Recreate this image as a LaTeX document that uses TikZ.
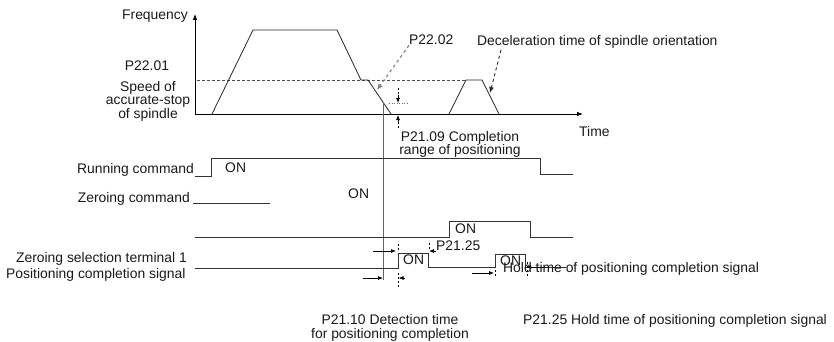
\documentclass[tikz,border=0pt]{standalone}
\usepackage{fontspec}
\setmainfont{Liberation Sans}
\usetikzlibrary{arrows.meta}

\begin{document}
\begin{tikzpicture}[
        x=1pt, y=-1pt,
        lbl/.style={font=\fontsize{13.9}{13.6}\selectfont, text=black!90, inner sep=0pt},
        axis/.style={line width=0.8pt, -{Latex[length=6pt,width=4.5pt]}},
        ramp/.style={line width=0.8pt, black!85},
        sig/.style={line width=0.8pt, black!80},
        level/.style={line width=0.5pt, densely dashed, black!70},
        pointer/.style={dashed, line width=1.1pt, -{Latex[length=6pt,width=5pt]}},
        tickarr/.style={line width=0.7pt, -{Latex[length=5pt,width=4pt]}},
        tick/.style={line width=0.6pt, dash pattern=on 2pt off 2pt}
    ]
        \useasboundingbox (0,0) rectangle (834,342);

        % Axes
        \coordinate (O) at (195,114);
        \coordinate (ftop) at (195,14);
        \coordinate (tend) at (583,114);
        \draw[axis] (O) -- (ftop);
        \draw[axis] (O) -- (tend);
        \node[lbl, anchor=base east] (freq) at (188,20) {Frequency};
        \node[lbl, anchor=base west] (time) at (579,136) {Time};

        % Speed profile
        \draw[level] (197,80) -- (466,80);
        \draw[ramp] (212,114) -- (253,30) -- (337,30) -- (361,80) -- (368,80) -- (391,114);
        \draw[ramp] (449,114) -- (466,80) -- (482,80) -- (499,114);
        \node[lbl, anchor=base] (p2201) at (147,71) {P22.01};
        \node[lbl, align=center, anchor=north] (speed) at (148,81) {Speed of\\accurate-stop\\of spindle};

        % Pointers to the deceleration slopes
        \node[lbl, anchor=base west] (p2202) at (409,45) {P22.02};
        \node[lbl, anchor=base west] (decel) at (477,45.5) {Deceleration time of spindle orientation};
        \coordinate (slopeA) at (377,90);
        \coordinate (decTail) at (501,50);
        \coordinate (slopeB) at (490,93);
        \draw[pointer, black!50] (p2202.south west) -- (slopeA);
        \draw[pointer, black!85, line width=0.9pt] (decTail) -- (slopeB);

        % Completion range
        \draw[tick] (398,88) -- (398,96);
        \draw[tickarr] (398,95) -- (398,103);
        \draw[line width=0.5pt, dotted, black!60] (389,103) -- (407,103);
        \draw[tickarr] (398,123) -- (398,115);
        \draw[tick] (398,122) -- (398,129);
        \node[lbl, align=center, anchor=north] (p2109) at (460,131) {P21.09 Completion\\range of positioning};

        % Moment of entering the range
        \coordinate (inrange) at (383,102);
        \coordinate (inrangeEnd) at (383,280);
        \draw[line width=0.6pt, black!60] (inrange) -- (inrangeEnd);

        % Signals
        \node[lbl, anchor=base east] (runlbl) at (194,173) {Running command};
        \draw[sig] (195,176) -- (211,176) -- (211,158) -- (540,158) -- (540,174) -- (573,174);
        \node[lbl, anchor=base west] (on1) at (225,172) {ON};

        \node[lbl, anchor=base east] (zerolbl) at (190,202) {Zeroing command};
        \draw[sig] (193,203) -- (270,203);
        \node[lbl, anchor=base west] (on2) at (348,198) {ON};

        \draw[sig] (195,237) -- (449,237) -- (449,221) -- (530,221) -- (530,237) -- (573,237);
        \node[lbl, anchor=base west] (on3) at (455,233) {ON};

        \node[lbl, anchor=base east] (zsellbl) at (187,262) {Zeroing selection terminal 1};
        \node[lbl, anchor=base west] (poslbl) at (6,278) {Positioning completion signal};
        \draw[sig] (195,268) -- (398,268) -- (398,253) -- (428,253) -- (428,267) -- (495,267)
            -- (495,254) -- (525,254) -- (525,267) -- (566,267);
        \node[lbl, anchor=base west] (on4) at (403,264.5) {ON};
        \node[lbl, anchor=base west] (on5) at (500,265) {ON};

        % Detection and hold times
        \draw[tickarr] (373,251) -- (396,251);
        \draw[tick] (398,244) -- (398,251);
        \node[lbl, anchor=base west] (p2125) at (436,250) {P21.25};
        \draw[tickarr] (p2125.west |- 0,251) -- (429,251);
        \draw[tick] (429,243) -- (429,250);
        \draw[tickarr] (363,278) -- (inrangeEnd |- 0,278);
        \draw[tickarr] (405,278) -- (398.5,278);
        \draw[tick] (398,273) -- (398,287);
        \draw[tickarr] (472,273) -- (494,273);
        \draw[tick] (495,270) -- (495,278);
        \draw[tickarr] (545,267) -- (526,267);
        \draw[tick] (527,262) -- (527,278);
        \node[lbl, anchor=base west] (hold) at (503,272) {Hold time of positioning completion signal};

        \node[lbl, align=center, anchor=north] (p2110) at (390,314.5) {P21.10 Detection time\\for positioning completion};
        \node[lbl, anchor=base west] (p2125full) at (523,324) {P21.25 Hold time of positioning completion signal};
    \end{tikzpicture}
\end{document}
